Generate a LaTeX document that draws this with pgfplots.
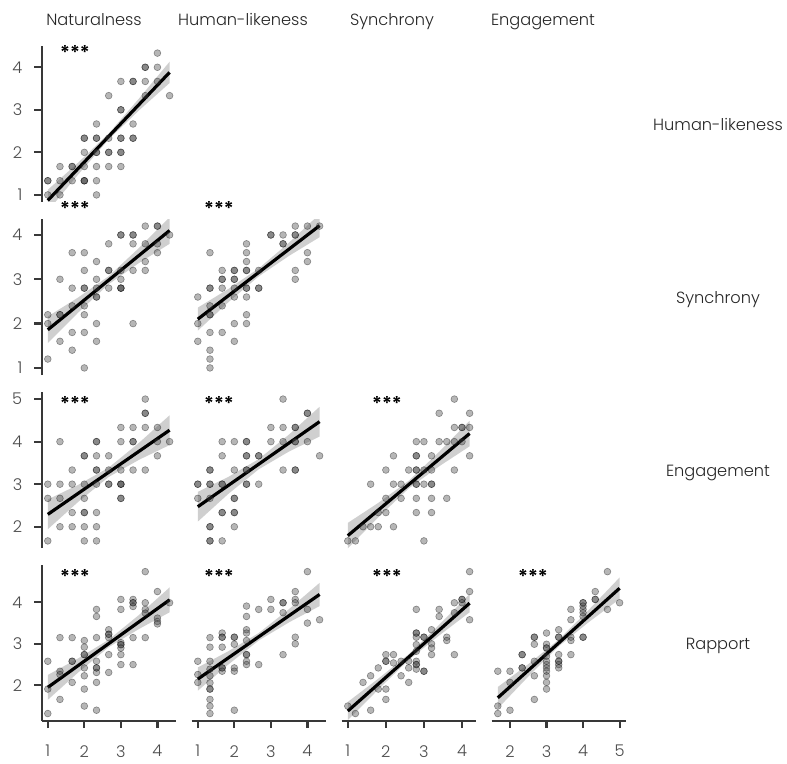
\documentclass[border=0pt]{standalone}
\usepackage{fontspec}
\setmainfont{Poppins}[UprightFont=* Light, BoldFont=* SemiBold]
\usepackage{pgfplots}
\pgfplotsset{compat=1.18}
\pgfplotsset{
  panel/.style={scale only axis, width=67pt, height=78pt,
    xtick=\empty, ytick=\empty,
    axis line style={-, draw=black!78, line width=1.1pt},
    tick style={draw=black!78, line width=1.1pt},
    tick align=outside, major tick length=3.6pt, minor tick num=0,
    tick label style={font=\fontsize{8.1}{9}\selectfont, text=black!70},
    yticklabel style={xshift=-2.6pt},
    xticklabel style={yshift=-5pt},
    /pgf/number format/assume math mode=true,
    anchor=north west, clip=true},
  pts/.style={only marks, mark=*, mark size=1.7pt,
    mark options={draw=black, fill=black!75, opacity=0.38, line width=0.3pt}},
  fitl/.style={black, line width=1.6pt, no marks},
  band/.style={draw=none, fill=black, fill opacity=0.19, no marks},
}
\begin{document}
\begin{tikzpicture}
\begin{scope}[x=0.5pt,y=-0.5pt]
\path[use as bounding box] (0,0) rectangle (787,756);
\tikzset{lab/.style={font=\fontsize{8.1}{9}\selectfont, text=black!85, inner sep=0pt},
         stars/.style={font=\fontsize{9.5}{9}\selectfont\bfseries, text=black, inner sep=0pt}}
% column headers
\node[lab, anchor=base] at (94,26) {Naturalness};
\node[lab, anchor=base] at (243,26) {Human-likeness};
\node[lab, anchor=base] at (392,26) {Synchrony};
\node[lab, anchor=base] at (543,26) {Engagement};
% row labels
\node[lab, anchor=base] at (718,131) {Human-likeness};
\node[lab, anchor=base] at (718,303) {Synchrony};
\node[lab, anchor=base] at (718,476) {Engagement};
\node[lab, anchor=base] at (718,649) {Rapport};
% significance stars
\node[stars] at (75,52) {***};
\node[stars] at (75,208) {***};
\node[stars] at (219,208) {***};
\node[stars] at (75,403) {***};
\node[stars] at (219,403) {***};
\node[stars] at (387,403) {***};
\node[stars] at (75,576) {***};
\node[stars] at (219,576) {***};
\node[stars] at (387,576) {***};
\node[stars] at (533,576) {***};
\end{scope}

% ---------- Row 1: Human-likeness vs Naturalness
\begin{axis}[panel, at={(20.85pt,-23pt)}, xmin=0.8333, xmax=4.5, ymin=0.8333, ymax=4.5,
  axis y line*=left, hide x axis, ytick={1,2,3,4}]
\addplot[pts] coordinates {(1,1.333)(1,1.333)(1,1)(1.333,1.333)(1.333,1)(1.333,1.667)(1.667,1.667)(1.667,1.667)(1.667,1.333)
(2,1.333)(2,1.333)(2,1.333)(2,1.667)(2,2)(2,2.333)(2,2.333)(2.333,1)(2.333,1.333)(2.333,1.667)(2.333,2)(2.333,2)(2.333,2.333)(2.333,2.333)(2.333,2.667)
(2.667,1.667)(2.667,2)(2.667,2)(2.667,2.333)(2.667,3.333)(3,1.667)(3,2)(3,2)(3,2.333)(3,2.333)(3,3)(3,3)(3,3.667)
(3.333,2.333)(3.333,2.333)(3.333,2.667)(3.333,3.667)(3.333,3.667)(3.667,3.667)(3.667,4)(3.667,4)(3.667,3.333)(4,4)(4,4.333)(4,3.667)(4.333,3.333)};
\addplot[band] coordinates {(1,1.12)(1.833,1.76)(2.667,2.445)(3.5,3.27)(4.333,4.13)(4.333,3.63)(3.5,2.99)(2.667,2.305)(1.833,1.48)(1,0.62)};
\addplot[fitl] coordinates {(1,0.87)(4.333,3.88)};
\end{axis}

% ---------- Row 2: Synchrony
\begin{axis}[panel, at={(20.85pt,-109.5pt)}, xmin=0.8333, xmax=4.5, ymin=0.84, ymax=4.36,
  axis y line*=left, hide x axis, ytick={1,2,3,4}]
\addplot[pts] coordinates {(1,2.2)(1,2.0)(1,1.2)(1.333,3.0)(1.333,2.2)(1.333,2.2)(1.333,1.6)
(1.667,3.6)(1.667,2.8)(1.667,2.4)(1.667,1.8)(1.667,1.4)(2,3.6)(2,3.2)(2,2.8)(2,2.8)(2,2.4)(2,2.2)(2,1.8)(2,1.0)
(2.333,3.4)(2.333,3.0)(2.333,2.8)(2.333,2.6)(2.333,2.6)(2.333,2.0)(2.333,1.6)(2.667,3.8)(2.667,3.2)(2.667,3.2)(2.667,2.8)
(3,4.0)(3,4.0)(3,3.2)(3,3.0)(3,2.8)(3,2.8)(3,2.8)(3.333,4.0)(3.333,4.0)(3.333,3.8)(3.333,3.2)(3.333,2.0)
(3.667,4.2)(3.667,3.8)(3.667,3.4)(3.667,3.2)(4,4.2)(4,4.2)(4,3.8)(4,3.6)(4.333,4.0)};
\addplot[band] coordinates {(1,2.16)(1.833,2.59)(2.667,3.07)(3.5,3.71)(4.333,4.40)(4.333,3.80)(3.5,3.37)(2.667,2.89)(1.833,2.25)(1,1.56)};
\addplot[fitl] coordinates {(1,1.86)(4.333,4.10)};
\end{axis}
\begin{axis}[panel, at={(95.85pt,-109.5pt)}, xmin=0.8333, xmax=4.5, ymin=0.84, ymax=4.36, hide axis]
\addplot[pts] coordinates {(1,2.6)(1,2.0)(1,1.6)(1.333,3.6)(1.333,2.8)(1.333,2.8)(1.333,2.4)(1.333,2.2)(1.333,2.2)(1.333,1.8)(1.333,1.4)(1.333,1.2)(1.333,1.0)
(1.667,3.2)(1.667,3.0)(1.667,3.0)(1.667,2.8)(1.667,2.4)(1.667,1.8)(2,3.2)(2,3.2)(2,3.0)(2,3.0)(2,2.8)(2,2.6)(2,2.0)(2,1.6)
(2.333,3.8)(2.333,3.6)(2.333,3.4)(2.333,3.2)(2.333,3.2)(2.333,2.8)(2.333,2.8)(2.333,2.6)(2.333,2.2)(2.333,2.0)
(2.667,3.2)(2.667,2.8)(2.667,2.8)(3,4.0)(3,4.0)(3.333,4.0)(3.333,3.8)(3.333,3.8)
(3.667,4.2)(3.667,4.0)(3.667,4.0)(3.667,3.2)(3.667,3.0)(4,4.2)(4,3.6)(4,3.4)(4.333,4.2)};
\addplot[band] coordinates {(1,2.36)(1.833,2.78)(2.667,3.245)(3.5,3.83)(4.333,4.47)(4.333,3.95)(3.5,3.53)(2.667,3.065)(1.833,2.48)(1,1.84)};
\addplot[fitl] coordinates {(1,2.10)(4.333,4.21)};
\end{axis}

% ---------- Row 3: Engagement
\begin{axis}[panel, at={(20.85pt,-196pt)}, xmin=0.8333, xmax=4.5, ymin=1.5, ymax=5.1667,
  axis y line*=left, hide x axis, ytick={2,3,4,5}]
\addplot[pts] coordinates {(1,3)(1,2.667)(1,1.667)(1.333,4)(1.333,3)(1.333,2.667)(1.333,2)
(1.667,3.333)(1.667,3)(1.667,2.333)(1.667,2)(2,3.667)(2,3.667)(2,3)(2,2.667)(2,2.333)(2,2.333)(2,2)(2,1.667)
(2.333,4)(2.333,4)(2.333,3.667)(2.333,3.333)(2.333,3.333)(2.333,3)(2.333,2.333)(2.333,2)(2.333,1.667)
(2.667,3.667)(2.667,3.333)(2.667,3)(2.667,3)(3,4.333)(3,4)(3,3.333)(3,3)(3,3)(3,3)(3,2.667)(3,2.667)
(3.333,4.333)(3.333,4)(3.333,4)(3.333,3.333)(3.667,5)(3.667,4.667)(3.667,4.667)(3.667,4.333)(3.667,3.333)
(4,4.333)(4,4)(4,3.667)(4.333,4)};
\addplot[band] coordinates {(1,2.64)(1.833,2.985)(2.667,3.39)(3.5,3.975)(4.333,4.62)(4.333,3.92)(3.5,3.575)(2.667,3.17)(1.833,2.585)(1,1.94)};
\addplot[fitl] coordinates {(1,2.29)(4.333,4.27)};
\end{axis}
\begin{axis}[panel, at={(95.85pt,-196pt)}, xmin=0.8333, xmax=4.5, ymin=1.5, ymax=5.1667, hide axis]
\addplot[pts] coordinates {(1,3)(1,3)(1,2.667)(1.333,3.333)(1.333,3.333)(1.333,3)(1.333,3)(1.333,2.667)(1.333,2)(1.333,2)(1.333,1.667)(1.333,1.667)
(1.667,4)(1.667,3.667)(1.667,3)(1.667,3)(1.667,2.333)(1.667,2.333)(1.667,1.667)(2,4)(2,3.333)(2,2.667)(2,2.667)(2,2.333)(2,2.333)(2,2)
(2.333,4)(2.333,4)(2.333,3.667)(2.333,3.667)(2.333,3.333)(2.333,3.333)(2.333,3)(2.333,3)(2.667,3.667)(2.667,3.667)(2.667,3)
(3,4.333)(3,4)(3.333,5)(3.333,4.333)(3.333,4)(3.333,3.333)(3.667,4.333)(3.667,4.333)(3.667,4)(3.667,4)(3.667,3.333)(3.667,3.333)
(4,4.667)(4,4.667)(4,4)(4.333,3.667)};
\addplot[band] coordinates {(1,2.82)(1.833,3.17)(2.667,3.59)(3.5,4.17)(4.333,4.82)(4.333,4.12)(3.5,3.77)(2.667,3.35)(1.833,2.77)(1,2.12)};
\addplot[fitl] coordinates {(1,2.47)(4.333,4.47)};
\end{axis}
\begin{axis}[panel, at={(170.85pt,-196pt)}, xmin=0.84, xmax=4.36, ymin=1.5, ymax=5.1667, hide axis]
\addplot[pts] coordinates {(1,1.667)(1.2,1.667)(1.4,2)(1.6,2)(1.8,2)(1.6,3)(1.8,2.333)(2,2.333)(2,2.667)(2,3.333)
(2.2,3.667)(2.2,3)(2.2,2)(2.4,3)(2.4,2.667)(2.6,3.333)(2.8,4)(2.8,3.667)(2.8,3.667)(2.8,3.333)(2.8,3.333)(2.8,3)(2.8,3)(2.8,2.667)(2.8,2.333)
(3,4)(3,3)(3,1.667)(3,3.333)(3.2,3.667)(3.2,3.333)(3.2,3)(3.2,3)(3.2,2.667)(3.2,2.333)
(3.4,4.667)(3.4,4)(3.6,4)(3.6,2.667)(3.8,5)(3.8,4.333)(3.8,4)(3.8,3.333)(4,4.333)(4,4.333)(4,4)(4.2,4.667)(4.2,4.333)(4.2,3.667)};
\addplot[band] coordinates {(1,2.09)(1.8,2.56)(2.6,3.08)(3.4,3.76)(4.2,4.49)(4.2,3.89)(3.4,3.42)(2.6,2.90)(1.8,2.22)(1,1.49)};
\addplot[fitl] coordinates {(1,1.79)(4.2,4.19)};
\end{axis}

% ---------- Row 4: Rapport
\begin{axis}[panel, at={(20.85pt,-282.5pt)}, xmin=0.8333, xmax=4.5, ymin=1.14, ymax=4.9,
  axis y line*=left, ytick={2,3,4}, axis x line*=bottom, xtick={1,2,3,4}]
\addplot[pts] coordinates {(1,2.58)(1,1.91)(1,1.32)(1.333,3.15)(1.333,2.34)(1.333,2.26)(1.333,1.66)
(1.667,3.15)(1.667,2.58)(1.667,2.58)(1.667,2.07)(2,3.08)(2,2.92)(2,2.74)(2,2.74)(2,2.42)(2,2.23)(2,1.91)(2,1.5)
(2.333,3.83)(2.333,3.66)(2.333,3.15)(2.333,2.58)(2.333,2.42)(2.333,2.42)(2.333,2.31)(2.333,2.07)(2.333,1.4)
(2.667,3.34)(2.667,3.23)(2.667,3.23)(2.667,3.15)(2.667,2.74)(2.667,2.31)(3,4.07)(3,3.83)(3,3.03)(3,2.98)(3,2.98)(3,2.9)(3,2.74)(3,2.5)
(3.333,4.07)(3.333,3.99)(3.333,3.99)(3.333,3.9)(3.333,3.15)(3.333,2.5)(3.667,4.74)(3.667,3.99)(3.667,3.83)(3.667,3.74)(3.667,3.15)
(4,4.26)(4,3.62)(4,3.54)(4,3.48)(4.333,3.99)};
\addplot[band] coordinates {(1,2.25)(1.833,2.65)(2.667,3.10)(3.5,3.70)(4.333,4.36)(4.333,3.76)(3.5,3.36)(2.667,2.92)(1.833,2.31)(1,1.65)};
\addplot[fitl] coordinates {(1,1.95)(4.333,4.06)};
\end{axis}
\begin{axis}[panel, at={(95.85pt,-282.5pt)}, xmin=0.8333, xmax=4.5, ymin=1.14, ymax=4.9,
  axis x line*=bottom, hide y axis, xtick={1,2,3,4}]
\addplot[pts] coordinates {(1,2.58)(1,2.26)(1,2.07)(1.333,3.15)(1.333,2.92)(1.333,2.58)(1.333,2.39)(1.333,2.23)(1.333,2.06)(1.333,1.91)(1.333,1.91)(1.333,1.66)(1.333,1.5)(1.333,1.32)
(1.667,3.26)(1.667,3.16)(1.667,3.16)(1.667,2.92)(1.667,2.42)(1.667,2.42)(1.667,2.34)(2,3.16)(2,3.16)(2,2.99)(2,2.42)(2,2.34)(2,1.4)
(2.333,3.91)(2.333,3.66)(2.333,3.34)(2.333,3.26)(2.333,3.08)(2.333,2.74)(2.333,2.74)(2.333,2.58)(2.333,2.5)(2.667,3.83)(2.667,2.5)
(3,4.07)(3,3.83)(3.333,3.99)(3.333,3.99)(3.333,3.75)(3.333,2.74)(3.667,4.26)(3.667,4.07)(3.667,3.99)(3.667,3.16)(3.667,3.0)
(4,4.74)(4,3.83)(4,3.5)(4.333,3.58)};
\addplot[band] coordinates {(1,2.43)(1.833,2.82)(2.667,3.26)(3.5,3.84)(4.333,4.47)(4.333,3.91)(3.5,3.52)(2.667,3.08)(1.833,2.50)(1,1.87)};
\addplot[fitl] coordinates {(1,2.15)(4.333,4.19)};
\end{axis}
\begin{axis}[panel, at={(170.85pt,-282.5pt)}, xmin=0.84, xmax=4.36, ymin=1.14, ymax=4.9,
  axis x line*=bottom, hide y axis, xtick={1,2,3,4}]
\addplot[pts] coordinates {(1,1.5)(1.2,1.32)(1.4,2.07)(1.6,2.23)(1.6,1.4)(1.8,2.42)(1.8,1.91)
(2,2.74)(2,2.58)(2,2.58)(2,1.91)(2,1.66)(2.2,2.74)(2.2,2.54)(2.4,2.58)(2.4,2.23)(2.6,2.58)(2.6,2.42)(2.6,2.07)
(2.8,3.83)(2.8,3.26)(2.8,3.26)(2.8,3.16)(2.8,2.98)(2.8,2.82)(2.8,2.58)(2.8,2.5)(2.8,2.5)(2.8,2.39)
(3,3.16)(3,3.16)(3,2.34)(3,2.34)(3.2,3.34)(3.2,3.0)(3.2,2.9)(3.2,2.74)(3.4,3.83)(3.4,3.66)(3.6,3.16)(3.6,3.08)
(3.8,3.99)(3.8,3.75)(3.8,2.74)(4,4.07)(4,4.07)(4,3.99)(4.2,4.74)(4.2,4.26)(4.2,3.58)};
\addplot[band] coordinates {(1,1.60)(1.8,2.16)(2.6,2.75)(3.4,3.46)(4.2,4.20)(4.2,3.76)(3.4,3.20)(2.6,2.61)(1.8,1.90)(1,1.16)};
\addplot[fitl] coordinates {(1,1.38)(4.2,3.98)};
\end{axis}
\begin{axis}[panel, at={(245.85pt,-282.5pt)}, xmin=1.5, xmax=5.1667, ymin=1.14, ymax=4.9,
  axis x line*=bottom, hide y axis, xtick={2,3,4,5}]
\addplot[pts] coordinates {(1.667,2.34)(1.667,1.5)(1.667,1.32)(2,2.34)(2,2.07)(2,1.4)(2.333,2.74)(2.333,2.74)(2.333,2.42)(2.333,2.42)
(2.667,3.16)(2.667,3.16)(2.667,2.99)(2.667,2.58)(2.667,2.23)(2.667,1.66)
(3,3.26)(3,2.99)(3,2.9)(3,2.9)(3,2.7)(3,2.58)(3,2.5)(3,2.42)(3,2.34)(3,2.23)(3,2.07)(3,1.91)
(3.333,3.34)(3.333,3.16)(3.333,3.16)(3.333,2.74)(3.333,2.58)(3.333,2.58)(3.333,2.5)(3.333,2.42)
(3.667,3.83)(3.667,3.58)(3.667,3.16)(3.667,3.08)(3.667,2.74)
(4,3.99)(4,3.99)(4,3.91)(4,3.83)(4,3.75)(4,3.66)(4,3.16)(4,3.16)(4.333,4.26)(4.333,4.07)(4.333,4.07)
(4.667,4.74)(4.667,3.83)(5,3.99)};
\addplot[band] coordinates {(1.667,1.96)(2.5,2.51)(3.333,3.10)(4.167,3.83)(5,4.60)(5,4.08)(4.167,3.53)(3.333,2.94)(2.5,2.21)(1.667,1.44)};
\addplot[fitl] coordinates {(1.667,1.70)(5,4.34)};
\end{axis}
\end{tikzpicture}
\end{document}
